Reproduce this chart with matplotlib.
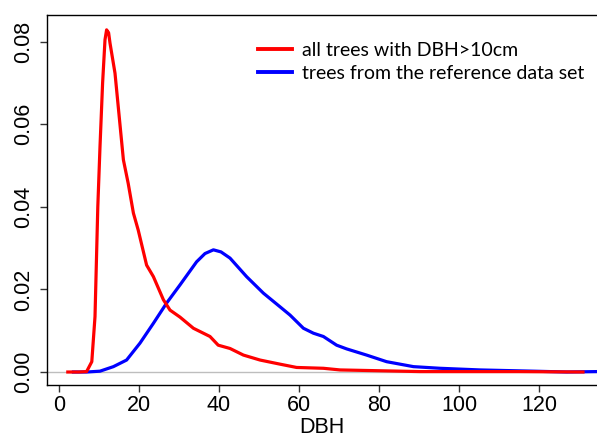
import numpy as np
import matplotlib.pyplot as plt
from matplotlib.lines import Line2D

# density curves
dbh_all = [2.2, 5.0, 6.9, 8.2, 9.0, 9.7, 10.25, 10.9, 11.5, 11.9, 12.4, 12.75, 14.0, 16.1, 17.3,
           18.6, 19.8, 21.9, 23.6, 26.1, 27.75, 30.25, 33.6, 37.75, 39.8, 42.75, 46.1, 50.25,
           55.25, 59.4, 66.1, 70.25, 80.25, 90.25, 100.0, 115.0, 131.0]
dens_all = [0.0, 0.0, 0.0001, 0.0025, 0.0134, 0.040, 0.0546, 0.070, 0.0805, 0.0829, 0.0822,
            0.0797, 0.0724, 0.0514, 0.0457, 0.0385, 0.0344, 0.0259, 0.0231, 0.0175, 0.0150,
            0.0133, 0.0106, 0.0086, 0.0065, 0.0057, 0.0041, 0.0029, 0.0019, 0.0011, 0.0009,
            0.0005, 0.0003, 0.0001, 0.0001, 0.0001, 0.0]

dbh_ref = [3.6, 7.0, 10.25, 13.6, 16.9, 20.25, 23.6, 26.9, 30.25, 34.4, 36.5, 38.6, 40.5,
           42.75, 46.9, 51.1, 55.25, 57.75, 61.1, 63.6, 66.1, 69.4, 71.9, 76.9, 81.9, 88.6,
           95.25, 105.25, 118.6, 126.9, 134.5]
dens_ref = [0.0, 0.0, 0.0002, 0.0013, 0.0029, 0.0070, 0.0118, 0.0167, 0.0211, 0.0267, 0.0287,
            0.0296, 0.0291, 0.0276, 0.0231, 0.0191, 0.0158, 0.0138, 0.0106, 0.0094, 0.0086,
            0.0065, 0.0056, 0.0041, 0.0025, 0.0013, 0.0009, 0.0005, 0.0002, 0.0, 0.0001]

labels = ['all trees with DBH>10cm', 'trees from the reference data set']
colors = ['#ff0000', '#0000ff']

plt.rcParams['font.family'] = ['Liberation Sans', 'DejaVu Sans']

fig = plt.figure(figsize=(5.97, 4.40), dpi=100)
ax = fig.add_axes([47/597, 1-385/440, 1-47/597, (385-15)/440])

ax.axhline(0, color='#bebebe', lw=1.0, zorder=1)
ax.plot(dbh_all, dens_all, color=colors[0], lw=2.3, zorder=3)
ax.plot(dbh_ref, dens_ref, color=colors[1], lw=2.3, zorder=2)

ax.set_xlim(-3, 134.5)
ax.set_ylim(-0.00315, 0.0865)
ax.set_xticks([0, 20, 40, 60, 80, 100, 120])
ax.set_yticks([0.0, 0.02, 0.04, 0.06, 0.08])
ax.set_yticklabels(['0.00', '0.02', '0.04', '0.06', '0.08'], rotation=90, va='center')
ax.tick_params(labelsize=15.5, length=5, width=1, color='#333333')
ax.tick_params(axis='x', pad=2)
ax.tick_params(axis='y', pad=4)
ax.spines['right'].set_visible(False)
for s in ['left', 'top', 'bottom']:
    ax.spines[s].set_linewidth(1.0)
ax.set_xlabel('DBH', fontsize=15.5, labelpad=1)

handles = [Line2D([], [], color=c, lw=2.8) for c in colors]
ax.legend(handles, labels, loc='upper left', bbox_to_anchor=(248/597, 1-32/440),
          bbox_transform=fig.transFigure, frameon=False, handlelength=1.75,
          handletextpad=0.55, labelspacing=0.3, borderpad=0,
          prop={'family': 'Lato', 'size': 14})

fig.savefig('out.png', dpi=100)
